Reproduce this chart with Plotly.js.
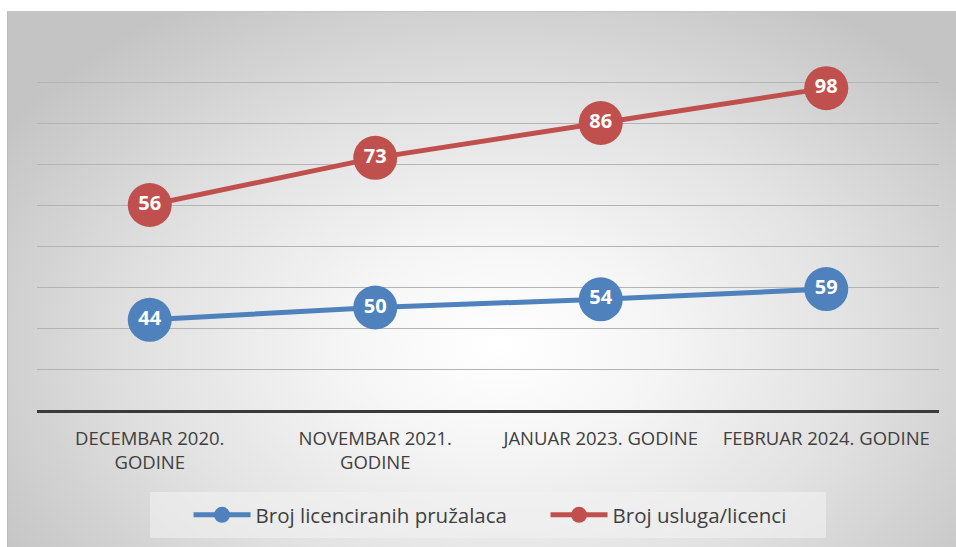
<!DOCTYPE html>
<html>
<head>
<meta charset="utf-8">
<script src="https://cdn.plot.ly/plotly-3.0.1.min.js"></script>
<style>
  html, body { margin: 0; padding: 0; background: #ffffff; width: 956px; height: 547px; overflow: hidden; }
  #bg {
    position: absolute; left: 7px; top: 11px; width: 949px; height: 536px;
    border-left: 1px solid #bdbdbd; border-top: 1px solid #c4c4c4; box-sizing: border-box;
    background: radial-gradient(ellipse 62% 75% at 52% 62%, #ffffff 0%, #f6f6f6 25%, #e2e2e2 60%, #c4c4c4 100%);
  }
  #chart { position: absolute; left: 0; top: 0; width: 956px; height: 547px; }
</style>
</head>
<body>
<div id="bg"></div>
<div id="chart"></div>
<script>
const categories = ["DECEMBAR 2020.<br>GODINE", "NOVEMBAR 2021.<br>GODINE", "JANUAR 2023. GODINE", "FEBRUAR 2024. GODINE"];
const seriesNames = ["Broj licenciranih pružalaca", "Broj usluga/licenci"];
const providers = [44, 50, 54, 59];
const services = [56, 73, 86, 98];

// stacked line chart: second series is drawn on top of the first
const stackedServices = services.map((v, i) => v + providers[i]);

const blue = "#4F81BD";
const red = "#C0504D";
const labelFont = { family: "Open Sans, sans-serif", size: 20, color: "#ffffff", weight: 700 };

const traces = [
  {
    x: categories, y: providers, name: seriesNames[0], type: "scatter",
    mode: "lines+markers+text", text: providers.map(String), textposition: "middle center",
    textfont: labelFont, cliponaxis: false,
    line: { color: blue, width: 5 }, marker: { color: blue, size: 44 }, hoverinfo: "skip"
  },
  {
    x: categories, y: stackedServices, name: seriesNames[1], type: "scatter",
    mode: "lines+markers+text", text: services.map(String), textposition: "middle center",
    textfont: labelFont, cliponaxis: false,
    line: { color: red, width: 5 }, marker: { color: red, size: 44 }, hoverinfo: "skip"
  }
];

const layout = {
  width: 956, height: 547,
  margin: { l: 37, r: 17, t: 41, b: 137 },
  paper_bgcolor: "rgba(0,0,0,0)", plot_bgcolor: "rgba(0,0,0,0)",
  showlegend: true,
  xaxis: {
    type: "category", range: [-0.5, 3.5], showgrid: false, zeroline: false,
    showline: true, linecolor: "#3a3a3a", linewidth: 3, automargin: false,
    ticks: "outside", ticklen: 10, tickcolor: "rgba(0,0,0,0)",
    tickfont: { family: "Open Sans, sans-serif", size: 18.5, color: "#404040" }
  },
  yaxis: {
    range: [0, 180], dtick: 20, showticklabels: false, zeroline: false, automargin: false,
    showgrid: true, gridcolor: "#b4b4b4", gridwidth: 1, showline: false, ticks: ""
  },
  legend: {
    orientation: "h", x: 0.168, xanchor: "left", xref: "paper",
    y: 0.0585, yanchor: "middle", yref: "container",
    bgcolor: "rgba(0,0,0,0)", itemwidth: 57, entrywidth: 285, entrywidthmode: "pixels",
    font: { family: "Open Sans, sans-serif", size: 20.5, color: "#404040" }
  },
  shapes: [
    { type: "rect", xref: "paper", yref: "paper", x0: 0.1253, x1: 0.8747, y0: -0.3469, y1: -0.2222,
      fillcolor: "rgba(242,242,242,0.6)", line: { width: 0 }, layer: "below" }
  ]
};

Plotly.newPlot("chart", traces, layout, { displayModeBar: false, staticPlot: true });
</script>
</body>
</html>
